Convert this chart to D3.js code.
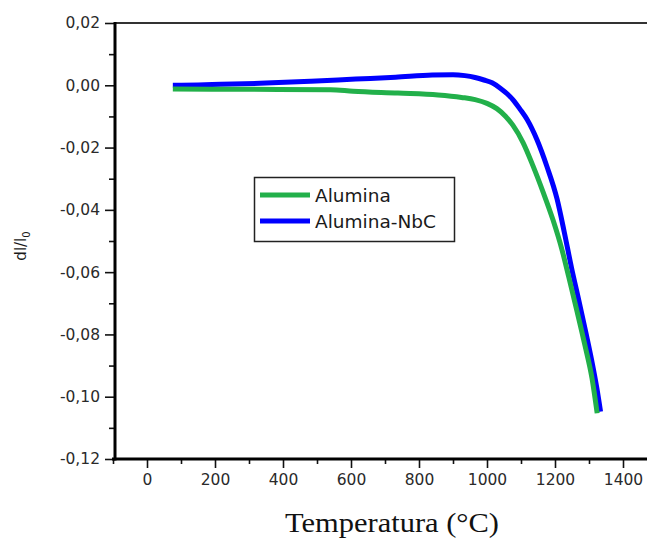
<!DOCTYPE html>
<html>
<head>
<meta charset="utf-8">
<script src="https://cdn.jsdelivr.net/npm/d3@7"></script>
<style>
  html, body { margin: 0; padding: 0; background: #fff; }
  svg { display: block; }
</style>
</head>
<body>
<svg id="chart" width="647" height="539"></svg>
<script>
// Dilatometry shrinkage curves dl/l0 versus temperature (°C)
const seriesNames = ["Alumina", "Alumina-NbC"];
const seriesColors = ["#22b04a", "#0000ff"];

// Alumina
const tempAlumina = [76, 300, 540, 606, 738, 856, 925, 965, 1000, 1029, 1055, 1076, 1106, 1135, 1165, 1194, 1221, 1241, 1265, 1288, 1309, 1324];
const dlAlumina = [-0.0012, -0.0013, -0.0014, -0.0019, -0.0025, -0.0031, -0.0039, -0.0046, -0.0058, -0.0075, -0.0100, -0.0128, -0.0184, -0.0258, -0.0343, -0.0432, -0.0530, -0.0618, -0.0727, -0.0835, -0.0942, -0.1053];

// Alumina-NbC
const tempNbC = [76, 150, 217, 350, 482, 614, 731, 839, 900, 935, 965, 991, 1015, 1040, 1060, 1076, 1098, 1118, 1147, 1176, 1206, 1227, 1249, 1270, 1290, 1308, 1323, 1334];
const dlNbC = [0.0000, 0.0001, 0.0003, 0.0007, 0.0013, 0.0020, 0.0026, 0.0033, 0.0034, 0.0031, 0.0025, 0.0017, 0.0008, -0.0010, -0.0028, -0.0046, -0.0078, -0.0110, -0.0175, -0.0260, -0.0365, -0.0470, -0.0588, -0.0690, -0.0790, -0.0884, -0.0972, -0.1048];

// Axis ticks
const xMajorTicks = [0, 200, 400, 600, 800, 1000, 1200, 1400];
const xMinorTicks = [-100, 100, 300, 500, 700, 900, 1100, 1300, 1500];
const yMajorTicks = [-0.12, -0.10, -0.08, -0.06, -0.04, -0.02, 0.00, 0.02];
const yMinorTicks = [-0.11, -0.09, -0.07, -0.05, -0.03, -0.01, 0.01];

const svg = d3.select("#chart");
const W = 647, H = 539;

const x = d3.scaleLinear().domain([-100, 1500]).range([113, 657]);
const y = d3.scaleLinear().domain([-0.12, 0.02]).range([459, 23]);

const axisX = 115, axisY = 459;
const tickFont = "'DejaVu Sans', sans-serif";

const commaLocale = d3.formatLocale({decimal: ",", thousands: ".", grouping: [3], currency: ["", ""], minus: "-"});
const yFmt = commaLocale.format(".2f");

// plot frame: top border
svg.append("line")
  .attr("x1", axisX).attr("x2", W)
  .attr("y1", y(0.02)).attr("y2", y(0.02))
  .attr("stroke", "#333").attr("stroke-width", 2);

// y axis
const gy = svg.append("g").attr("transform", `translate(${axisX},0)`);
gy.call(d3.axisLeft(y).tickValues(yMajorTicks).tickSize(10).tickPadding(5).tickFormat(yFmt));
gy.append("g").call(d3.axisLeft(y).tickValues(yMinorTicks).tickSize(6).tickFormat(""));
gy.selectAll(".domain").remove();
gy.selectAll(".tick line").attr("stroke", "#111").attr("stroke-width", 1.6);
gy.selectAll(".tick text")
  .attr("font-family", tickFont).attr("font-size", "15.5px").attr("fill", "#2a2a2a");

// x axis
const gx = svg.append("g").attr("transform", `translate(0,${axisY})`);
gx.call(d3.axisBottom(x).tickValues(xMajorTicks).tickSize(9).tickPadding(6).tickFormat(d3.format("d")));
gx.append("g").call(d3.axisBottom(x).tickValues(xMinorTicks).tickSize(5).tickFormat(""));
gx.selectAll(".domain").remove();
gx.selectAll(".tick line").attr("stroke", "#111").attr("stroke-width", 1.6);
gx.selectAll(".tick text")
  .attr("font-family", tickFont).attr("font-size", "15.5px").attr("fill", "#2a2a2a");

// axis lines
svg.append("line")
  .attr("x1", axisX).attr("x2", axisX)
  .attr("y1", y(0.02) - 1).attr("y2", axisY + 1.5)
  .attr("stroke", "#000").attr("stroke-width", 3);
svg.append("line")
  .attr("x1", 112).attr("x2", W)
  .attr("y1", axisY).attr("y2", axisY)
  .attr("stroke", "#000").attr("stroke-width", 3);

// curves (NbC underneath, Alumina on top)
const line = d3.line()
  .x(d => x(d[0])).y(d => y(d[1]))
  .curve(d3.curveMonotoneX);

const nbcData = tempNbC.map((t, i) => [t, dlNbC[i]]);
const aluData = tempAlumina.map((t, i) => [t, dlAlumina[i]]);

svg.append("path").datum(nbcData)
  .attr("d", line).attr("fill", "none")
  .attr("stroke", seriesColors[1]).attr("stroke-width", 5);
svg.append("path").datum(aluData)
  .attr("d", line).attr("fill", "none")
  .attr("stroke", seriesColors[0]).attr("stroke-width", 5);

// legend
const lg = svg.append("g");
lg.append("rect")
  .attr("x", 254.5).attr("y", 177.5).attr("width", 200).attr("height", 64)
  .attr("fill", "#fff").attr("stroke", "#222").attr("stroke-width", 1.5);
seriesNames.forEach((name, i) => {
  const cy = 195 + i * 26;
  lg.append("line")
    .attr("x1", 260).attr("x2", 310).attr("y1", cy).attr("y2", cy)
    .attr("stroke", seriesColors[i]).attr("stroke-width", 5);
  lg.append("text")
    .attr("x", 315).attr("y", cy + 7)
    .attr("font-family", tickFont).attr("font-size", "18.5px").attr("fill", "#1a1a1a")
    .text(name);
});

// y axis title dl/l0
const yt = svg.append("text")
  .attr("transform", "translate(26,246) rotate(-90)")
  .attr("text-anchor", "middle")
  .attr("font-family", tickFont).attr("font-size", "15px").attr("fill", "#1a1a1a");
yt.append("tspan").text("dl/l");
yt.append("tspan").attr("dy", 4).attr("font-size", "10px").text("0");

// x axis title
svg.append("text")
  .attr("x", 392).attr("y", 532)
  .attr("text-anchor", "middle")
  .attr("font-family", "'Liberation Serif', 'Times New Roman', serif")
  .attr("font-size", "28px").attr("fill", "#111")
  .attr("textLength", 214).attr("lengthAdjust", "spacingAndGlyphs")
  .text("Temperatura (°C)");
</script>
</body>
</html>
